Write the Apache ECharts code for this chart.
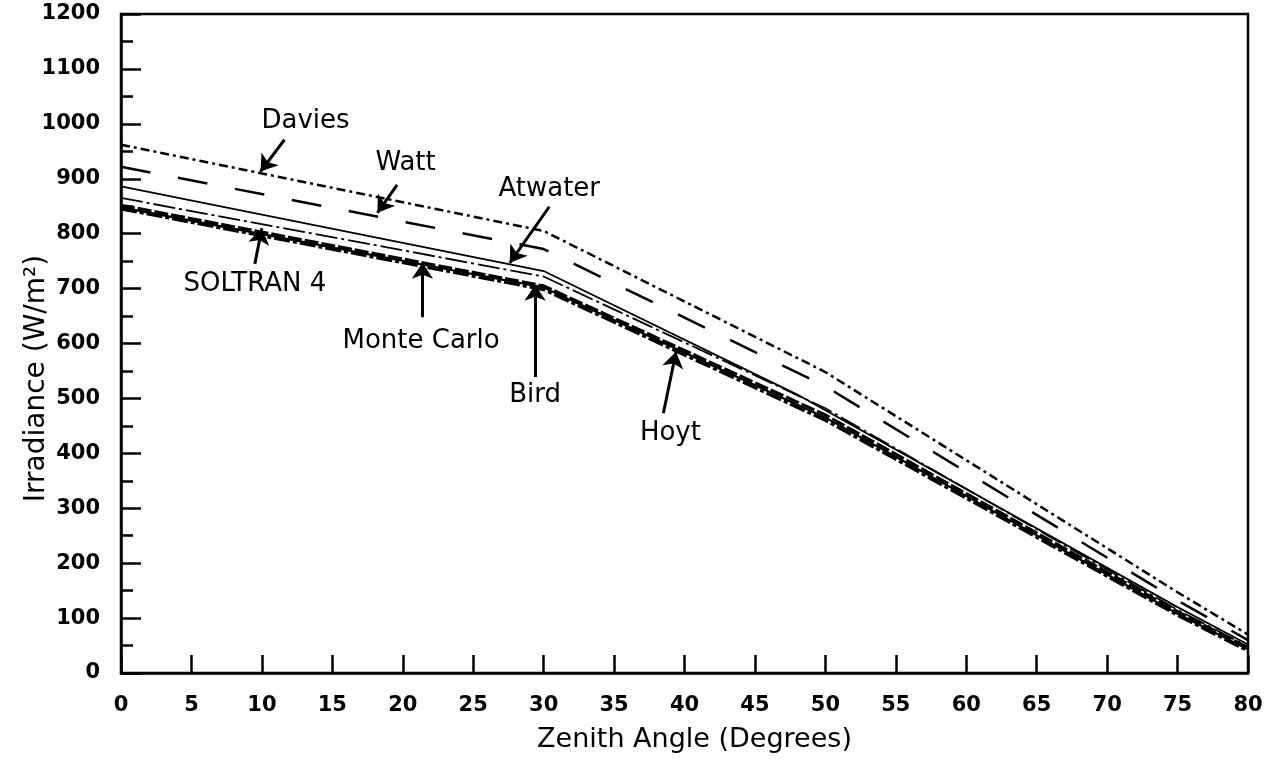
<!DOCTYPE html>
<html>
<head>
<meta charset="utf-8">
<script src="https://cdn.jsdelivr.net/npm/echarts@6/dist/echarts.min.js"></script>
<style>
html,body{margin:0;padding:0;background:#fff;}
#chart{width:1269px;height:769px;}
</style>
</head>
<body>
<div id="chart"></div>
<script>
// Zenith angle breakpoints (degrees) and irradiance values (W/m²)
const daviesX = [0, 30, 50, 75, 80];
const daviesY = [962, 805, 548, 147, 70];
const wattX = [0, 30, 50, 75, 80];
const wattY = [922, 772, 522, 132, 60];
const atwaterX = [0, 30, 48, 75, 80];
const atwaterY = [886, 732, 507, 120, 52];
const monteCarloX = [0, 30, 50, 75, 80];
const monteCarloY = [865, 722, 482, 115, 48];
const soltranX = [0, 30, 50, 75, 80];
const soltranY = [852, 705, 470, 112, 46];
const birdX = [0, 30, 50, 75, 80];
const birdY = [848, 702, 465, 108, 43];
const hoytX = [0, 30, 50, 75, 80];
const hoytY = [845, 698, 460, 105, 40];

// Annotation labels: text and centre position (data units)
const labelNames = ['Davies', 'Watt', 'Atwater', 'SOLTRAN 4', 'Monte Carlo', 'Bird', 'Hoyt'];
const labelX = [13.1, 20.2, 30.4, 9.5, 21.3, 29.4, 39.0];
const labelY = [1005, 928, 880, 707, 605, 506, 437];
// Arrow start and tip (data units)
const arrowFromX = [11.6, 19.6, 30.4, 9.5, 21.4, 29.4, 38.5];
const arrowFromY = [971, 889, 849, 745, 648, 539, 473];
const arrowToX = [9.9, 18.2, 27.6, 10.0, 21.4, 29.4, 39.4];
const arrowToY = [913, 838, 747, 810, 747, 707, 585];

const xMin = 0, xMax = 80, xStep = 5;
const yMin = 0, yMax = 1200, yStep = 100;

function pairs(xs, ys) { return xs.map((x, i) => [x, ys[i]]); }

const FONT = 'DejaVu Sans, Arial, sans-serif';

function lineSeries(name, xs, ys, width, type) {
  return {
    name: name, type: 'line', data: pairs(xs, ys),
    symbol: 'none', silent: true, animation: false,
    lineStyle: { color: '#000', width: width, type: type }
  };
}

const chart = echarts.init(document.getElementById('chart'), null, { renderer: 'canvas' });
chart.setOption({
  backgroundColor: '#fff',
  animation: false,
  grid: { left: 121, right: 21, top: 14, bottom: 96, show: true, borderColor: '#000', borderWidth: 2.5, backgroundColor: 'transparent' },
  xAxis: {
    type: 'value', min: xMin, max: xMax, interval: xStep,
    name: 'Zenith Angle (Degrees)', nameLocation: 'middle', nameGap: 53, nameMoveOverlap: false,
    nameTextStyle: { fontFamily: FONT, fontSize: 27, color: '#000', padding: [0, 0, 0, 20] },
    axisLine: { show: true, lineStyle: { color: '#000', width: 2.5 } },
    axisTick: { show: true, inside: true, length: 18, lineStyle: { color: '#000', width: 2.5 } },
    axisLabel: { fontFamily: FONT, fontSize: 21, fontWeight: 'bold', color: '#000', margin: 22, formatter: v => String(v) },
    splitLine: { show: false }
  },
  yAxis: {
    type: 'value', min: yMin, max: yMax, interval: yStep,
    name: 'Irradiance (W/m²)', nameLocation: 'middle', nameGap: 70, nameRotate: 90, nameMoveOverlap: false,
    nameTextStyle: { fontFamily: FONT, fontSize: 28, color: '#000', padding: [0, 70, 0, 0] },
    axisLine: { show: true, lineStyle: { color: '#000', width: 2.5 } },
    axisTick: { show: true, inside: true, length: 20, lineStyle: { color: '#000', width: 2.5 } },
    minorTick: { show: true, splitNumber: 2, length: 12, lineStyle: { color: '#000', width: 2.5 } },
    axisLabel: { fontFamily: FONT, fontSize: 21, fontWeight: 'bold', color: '#000', margin: 21, formatter: v => String(v) },
    splitLine: { show: false }
  },
  series: [
    lineSeries('Davies', daviesX, daviesY, 2.5, [9, 4, 3, 4]),
    lineSeries('Watt', wattX, wattY, 2.5, [30, 28]),
    lineSeries('Atwater', atwaterX, atwaterY, 1.8, 'solid'),
    lineSeries('Monte Carlo', monteCarloX, monteCarloY, 1.8, [22, 4, 3, 4]),
    lineSeries('SOLTRAN 4', soltranX, soltranY, 3, [14, 3]),
    lineSeries('Bird', birdX, birdY, 2.2, 'solid'),
    lineSeries('Hoyt', hoytX, hoytY, 3, [16, 3, 4, 3]),
    {
      name: 'arrows', type: 'lines', coordinateSystem: 'cartesian2d', silent: true,
      symbol: ['none', 'arrow'], symbolSize: [0, 16],
      lineStyle: { color: '#000', width: 3, opacity: 1, curveness: 0 },
      data: arrowFromX.map((x, i) => ({ coords: [[x, arrowFromY[i]], [arrowToX[i], arrowToY[i]]] }))
    },
    {
      name: 'labels', type: 'scatter', silent: true, symbolSize: 1,
      data: labelNames.map((n, i) => ({ name: n, value: [labelX[i], labelY[i]] })),
      label: { show: true, position: 'inside', formatter: p => p.name, fontFamily: FONT, fontSize: 26, color: '#000', opacity: 1 },
      itemStyle: { color: 'rgba(0,0,0,0)', opacity: 1 }
    }
  ]
});
</script>
</body>
</html>
